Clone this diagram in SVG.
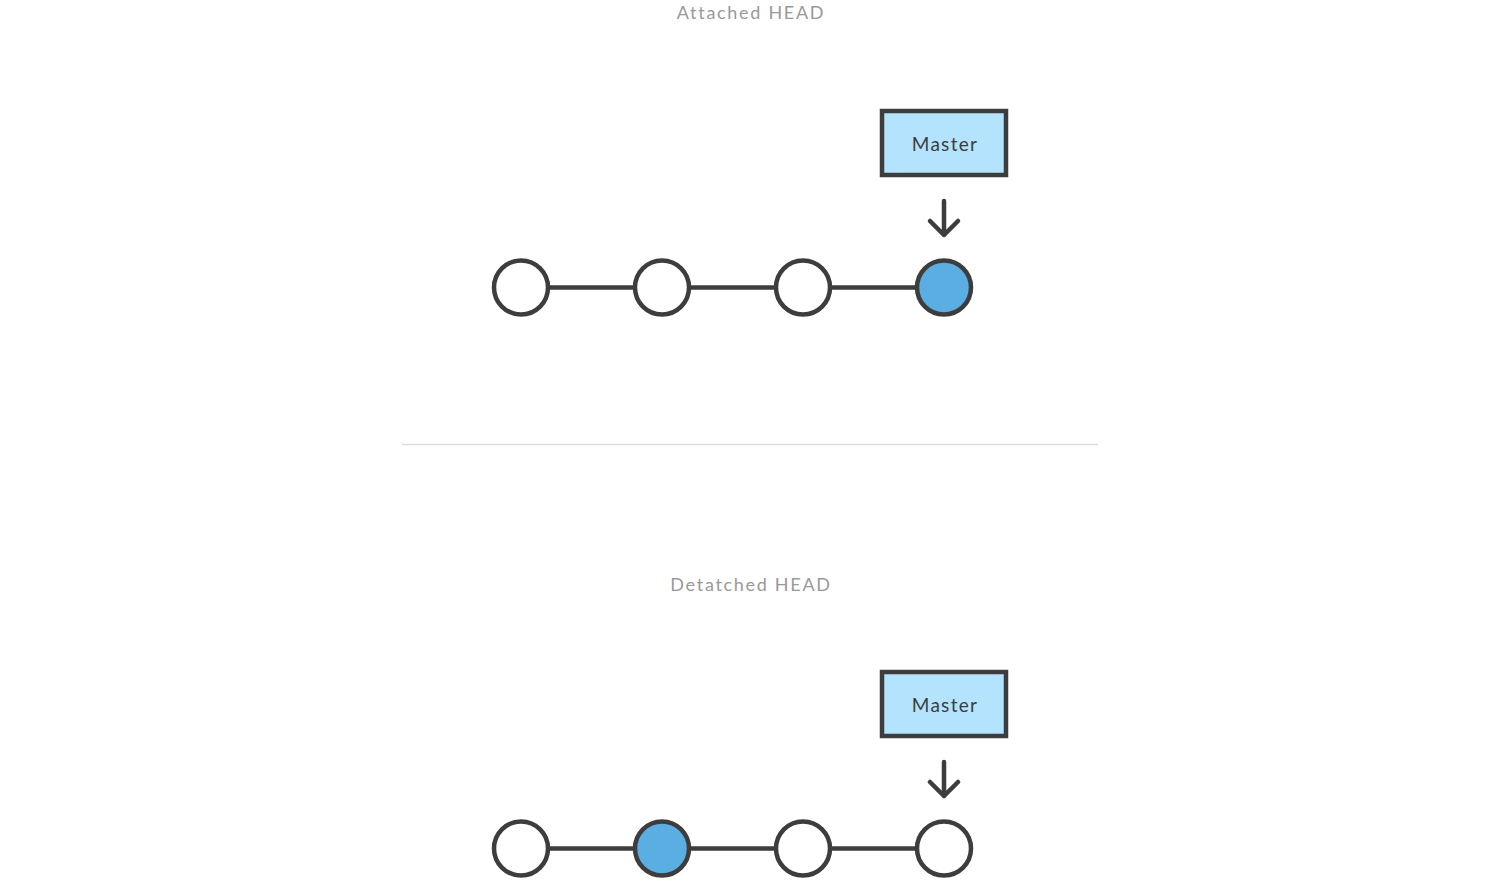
<svg xmlns="http://www.w3.org/2000/svg" width="1500" height="883" viewBox="0 0 1500 883">
<style>
.title{font-family:Lato,"Noto Sans",sans-serif;font-size:18px;fill:#999;letter-spacing:1.7px;text-anchor:middle}
.lbl{font-family:Lato,"Noto Sans",sans-serif;font-size:19px;fill:#3d3d3d;letter-spacing:1.3px;text-anchor:middle}
.box{fill:#b3e3fd;stroke:#3d3d3d;stroke-width:4.5}
.c{fill:#fff;stroke:#3d3d3d;stroke-width:4.5}
.c.on{fill:#5aaee2}
.ln{stroke:#3d3d3d;stroke-width:4.5;fill:none}
.arr{stroke:#3d3d3d;stroke-width:4.5;fill:none;stroke-linecap:round;stroke-linejoin:round}
</style>
<rect width="1500" height="883" fill="#fff"/>
<text class="title" x="751" y="19">Attached HEAD</text>
<text class="title" x="751" y="591">Detatched HEAD</text>
<line x1="402" y1="444.5" x2="1098" y2="444.5" stroke="#dcdcdc" stroke-width="1.5"/>
<g id="connectors">
<line class="ln" x1="548" y1="287.5" x2="635" y2="287.5"/>
<line class="ln" x1="689" y1="287.5" x2="776" y2="287.5"/>
<line class="ln" x1="830" y1="287.5" x2="917" y2="287.5"/>
<path class="arr" d="M944 201V235M930 221L944 235L958 221"/>
<line class="ln" x1="548" y1="848.5" x2="635" y2="848.5"/>
<line class="ln" x1="689" y1="848.5" x2="776" y2="848.5"/>
<line class="ln" x1="830" y1="848.5" x2="917" y2="848.5"/>
<path class="arr" d="M944 762V796M930 782L944 796L958 782"/>
</g>
<g id="master1"><rect class="box" x="882" y="111" width="124" height="64"/><text class="lbl" x="945" y="151">Master</text></g>
<g id="a1"><circle class="c" cx="521" cy="287.5" r="27"/></g>
<g id="a2"><circle class="c" cx="662" cy="287.5" r="27"/></g>
<g id="a3"><circle class="c" cx="803" cy="287.5" r="27"/></g>
<g id="a4"><circle class="c on" cx="944" cy="287.5" r="27"/></g>
<g id="master2"><rect class="box" x="882" y="672" width="124" height="64"/><text class="lbl" x="945" y="712">Master</text></g>
<g id="b1"><circle class="c" cx="521" cy="848.5" r="27"/></g>
<g id="b2"><circle class="c on" cx="662" cy="848.5" r="27"/></g>
<g id="b3"><circle class="c" cx="803" cy="848.5" r="27"/></g>
<g id="b4"><circle class="c" cx="944" cy="848.5" r="27"/></g>
</svg>
